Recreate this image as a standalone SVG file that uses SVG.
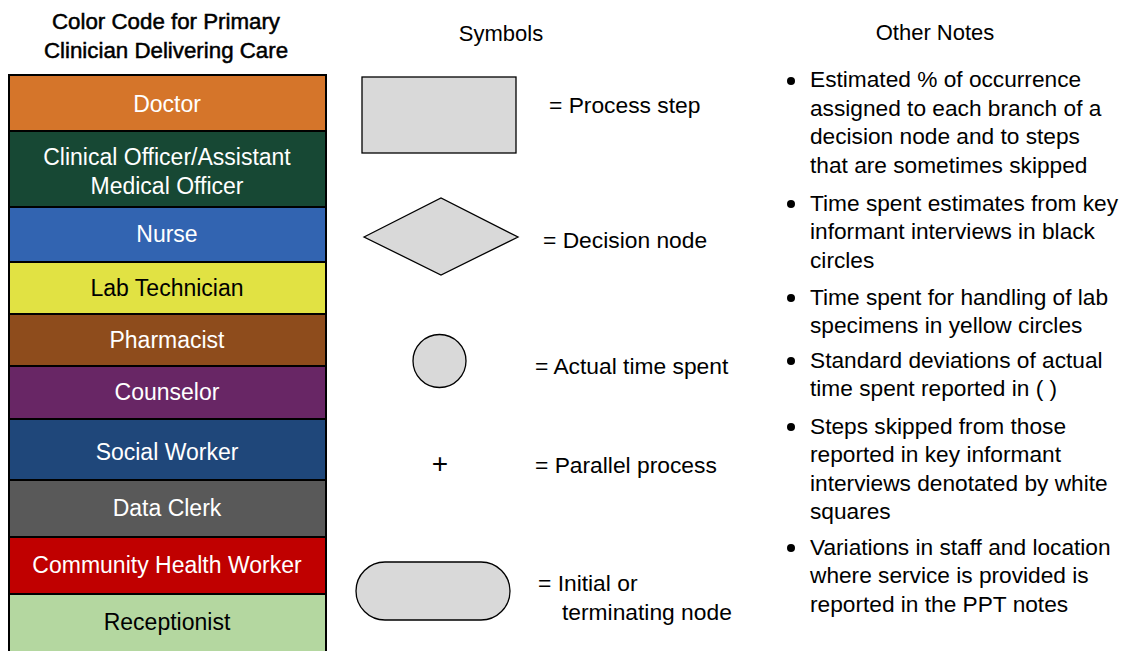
<svg xmlns="http://www.w3.org/2000/svg" width="1129" height="651" viewBox="0 0 1129 651">
<style>
text{font-family:"Liberation Sans",Arial,sans-serif;font-size:22px;fill:#000}
.hd{font-size:22.3px;stroke:#000;stroke-width:0.5}
.lb{text-anchor:middle;font-size:23px}
.w{fill:#fff}
.box{stroke:#000;stroke-width:2}
.sym{fill:#d9d9d9;stroke:#000;stroke-width:1.3}
.st{font-size:22.8px}
.nt{font-size:22.7px}
.plus{font-size:28px;text-anchor:middle}
</style>
<rect width="1129" height="651" fill="#fff"/>
<g id="legend-title">
<text class="hd" x="166" y="29" text-anchor="middle">Color Code for Primary</text>
<text class="hd" x="166" y="58" text-anchor="middle">Clinician Delivering Care</text>
</g>
<g id="doctor"><rect class="box" x="9" y="75" width="317" height="56" fill="#D5752A"/><text class="lb w" x="167" y="112">Doctor</text></g>
<g id="clinical-officer"><rect class="box" x="9" y="131" width="317" height="76" fill="#174834"/><text class="lb w" x="167" y="165">Clinical Officer/Assistant</text><text class="lb w" x="167" y="194">Medical Officer</text></g>
<g id="nurse"><rect class="box" x="9" y="207" width="317" height="55" fill="#3264B1"/><text class="lb w" x="167" y="242">Nurse</text></g>
<g id="lab-technician"><rect class="box" x="9" y="262" width="317" height="52" fill="#E1E243"/><text class="lb" x="167" y="296">Lab Technician</text></g>
<g id="pharmacist"><rect class="box" x="9" y="314" width="317" height="52" fill="#8E4C1C"/><text class="lb w" x="167" y="348">Pharmacist</text></g>
<g id="counselor"><rect class="box" x="9" y="366" width="317" height="53" fill="#682665"/><text class="lb w" x="167" y="400">Counselor</text></g>
<g id="social-worker"><rect class="box" x="9" y="419" width="317" height="61" fill="#1F477A"/><text class="lb w" x="167" y="460">Social Worker</text></g>
<g id="data-clerk"><rect class="box" x="9" y="480" width="317" height="57" fill="#595959"/><text class="lb w" x="167" y="516">Data Clerk</text></g>
<g id="community-health-worker"><rect class="box" x="9" y="537" width="317" height="57" fill="#C00000"/><text class="lb w" x="167" y="573">Community Health Worker</text></g>
<g id="receptionist"><rect class="box" x="9" y="594" width="317" height="60" fill="#B4D7A0"/><text class="lb" x="167" y="630">Receptionist</text></g>

<g id="symbols-title"><text x="501" y="41" text-anchor="middle">Symbols</text></g>
<g id="sym-process"><rect class="sym" x="362" y="77" width="154" height="76"/><text class="st" x="549" y="113">= Process step</text></g>
<g id="sym-decision"><polygon class="sym" points="364,237 441,198 518,237 441,275"/><text class="st" x="543" y="248">= Decision node</text></g>
<g id="sym-time"><circle class="sym" cx="439.5" cy="361" r="26.5"/><text class="st" x="535" y="374">= Actual time spent</text></g>
<g id="sym-parallel"><text class="plus" x="440" y="473">+</text><text class="st" x="535" y="473">= Parallel process</text></g>
<g id="sym-terminal"><rect class="sym" x="356" y="562" width="154" height="58" rx="29" ry="29"/><text class="st" x="538" y="591">= Initial or</text><text class="st" x="562" y="620">terminating node</text></g>

<g id="notes-title"><text x="935" y="40" text-anchor="middle">Other Notes</text></g>
<g id="notes">
<circle cx="791" cy="81" r="4"/>
<text class="nt" x="810" y="87">Estimated % of occurrence</text>
<text class="nt" x="810" y="115.5">assigned to each branch of a</text>
<text class="nt" x="810" y="144">decision node and to steps</text>
<text class="nt" x="810" y="172.5">that are sometimes skipped</text>
<circle cx="791" cy="204" r="4"/>
<text class="nt" x="810" y="210.5">Time spent estimates from key</text>
<text class="nt" x="810" y="239">informant interviews in black</text>
<text class="nt" x="810" y="267.5">circles</text>
<circle cx="791" cy="298" r="4"/>
<text class="nt" x="810" y="304.5">Time spent for handling of lab</text>
<text class="nt" x="810" y="333">specimens in yellow circles</text>
<circle cx="791" cy="361" r="4"/>
<text class="nt" x="810" y="367.5">Standard deviations of actual</text>
<text class="nt" x="810" y="396">time spent reported in ( )</text>
<circle cx="791" cy="427" r="4"/>
<text class="nt" x="810" y="433.5">Steps skipped from those</text>
<text class="nt" x="810" y="462">reported in key informant</text>
<text class="nt" x="810" y="490.5">interviews denotated by white</text>
<text class="nt" x="810" y="519">squares</text>
<circle cx="791" cy="548" r="4"/>
<text class="nt" x="810" y="554.5">Variations in staff and location</text>
<text class="nt" x="810" y="583">where service is provided is</text>
<text class="nt" x="810" y="611.5">reported in the PPT notes</text>
</g>
</svg>
